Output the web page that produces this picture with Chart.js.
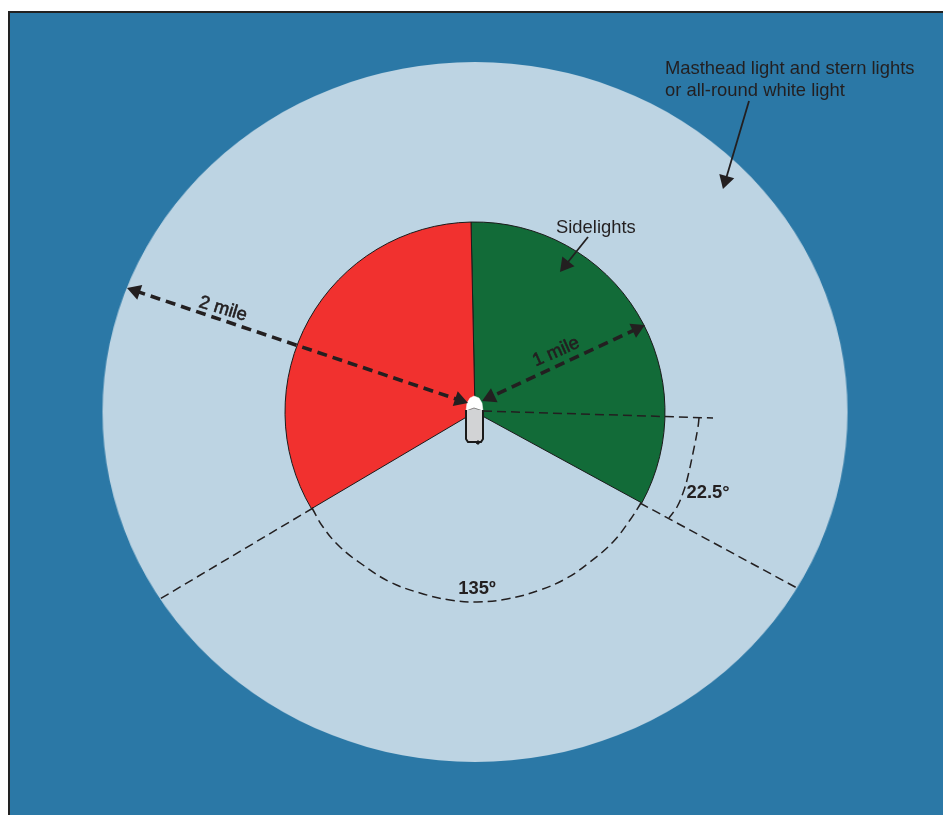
<!DOCTYPE html>
<html>
<head>
<meta charset="utf-8">
<title>Navigation light sectors</title>
<script src="https://cdn.jsdelivr.net/npm/chart.js@4"></script>
<style>
  html, body { margin: 0; padding: 0; background: #fff; }
  #page { position: relative; width: 943px; height: 815px; overflow: hidden; }
  #sea { position: absolute; left: 8px; top: 11px; width: 935px; height: 804px;
         background: #2b78a6; border-left: 2.5px solid #222; border-top: 2.5px solid #222; box-sizing: border-box; }
  .layer { position: absolute; }
  #allRound { left: 123px; top: 60px; width: 704px; height: 704px; transform: scaleX(1.0643); }
  #sectors { left: 275px; top: 212px; width: 400px; height: 400px; }
  #overlay { left: 0; top: 0; width: 943px; height: 815px; }
</style>
</head>
<body>
<div id="page">
  <div id="sea"></div>
  <div class="layer" id="allRound"><canvas id="allRoundChart" width="704" height="704"></canvas></div>
  <div class="layer" id="sectors"><canvas id="sectorChart" width="400" height="400"></canvas></div>
  <div class="layer" id="overlay"><canvas id="overlayChart" width="943" height="815"></canvas></div>
</div>
<script>
// Data

const sectorLabels = ["Starboard", "Stern gap", "Port"];
const sectorDegrees = [119.8, 120.8, 119.4];
const sectorStart = -1.2;
const allRoundLabels = ["All-round white"];
const allRoundDegrees = [360];

// overlay points, in picture coordinates
const rayAhead = [[483, 411], [713, 418]];
const rayStarboard = [[640, 503], [797, 588]];
const rayPort = [[313, 508], [160, 599]];
const arc135 = [[312, 508], [323, 527], [340, 547], [363, 565], [390, 582], [420, 593], [450, 600],
                [477, 602], [507, 599], [540, 590], [567, 578], [590, 562], [613, 542], [630, 520], [641, 503]];
const arc225 = [[699, 418], [698, 427], [693, 453], [687, 480], [683, 493], [677, 507], [669, 518]];

const arrow2Mile = [[135.5, 290.9], [459.5, 400.1]];
const arrow1Mile = [[636.8, 328.8], [490.2, 397.2]];
const arrowMasthead = [[749, 101], [725.5, 180.4]];
const arrowSidelights = [[588, 237], [565.6, 265]];

const boatHull = [[466, 410], [466, 439], [468, 442], [481, 442], [483, 439], [483, 410]];
const boatKeel = [[477, 441], [477, 444], [479, 444], [479, 441], [477, 441]];
const boatCabin = [[466, 411], [474, 408], [483, 411], [483, 420], [466, 420], [466, 411]];
const boatBow = [[466, 411], [467, 403], [470, 398], [474, 396], [479, 398], [482, 403], [483, 411], [474, 408], [466, 411]];

const labelTexts = ["Masthead light and stern lights", "or all-round white light", "Sidelights", "2 mile", "1 mile", "135º", "22.5°"];
const labelX = [665, 665, 556, 223, 556, 477, 708];
const labelY = [69, 91, 228, 309, 352, 589, 493];
const labelAngle = [0, 0, 0, 17, -24, 0, 0];
const labelWeight = ["normal", "normal", "normal", "heavy", "heavy", "bold", "bold"];

const INK = "#231f20";

function pts(list) {
  return list.map(p => ({ x: p[0], y: p[1] }));
}

function dashed(list, smooth) {
  return { data: pts(list), showLine: true, borderColor: INK, borderWidth: 1.5, borderDash: [9, 5],
           tension: smooth ? 0.4 : 0, pointRadius: 0 };
}

// line with a triangle head; angles are degrees clockwise from up
function arrow(list, width, dash, size, angles) {
  return { data: pts(list), showLine: true, borderColor: INK, borderWidth: width, borderDash: dash,
           pointStyle: "triangle", pointBackgroundColor: INK, pointBorderWidth: 0,
           pointRadius: size, pointRotation: angles };
}

function shape(list, color, edge, width) {
  return { data: pts(list), showLine: true, fill: "shape", backgroundColor: color, borderColor: edge,
           borderWidth: width, pointRadius: 0 };
}

const labelPlugin = {
  id: "labelPlugin",
  afterDatasetsDraw(chart) {
    const { ctx, scales } = chart;
    labelTexts.forEach((t, i) => {
      ctx.save();
      ctx.translate(scales.x.getPixelForValue(labelX[i]), scales.y.getPixelForValue(labelY[i]));
      ctx.rotate(labelAngle[i] * Math.PI / 180);
      ctx.font = (labelWeight[i] === "bold" ? "bold " : "") + "18.4px 'Liberation Sans'";
      ctx.fillStyle = INK;
      ctx.strokeStyle = INK;
      ctx.lineWidth = 0.6;
      ctx.textBaseline = "middle";
      ctx.textAlign = i < 3 ? "left" : "center";
      ctx.fillText(t, 0, 0);
      if (labelWeight[i] === "heavy") ctx.strokeText(t, 0, 0);
      ctx.restore();
    });
  },
};

const quiet = { legend: { display: false }, tooltip: { enabled: false } };

new Chart(document.getElementById("allRoundChart"), {
  type: "pie",
  data: {
    labels: allRoundLabels,
    datasets: [{ data: allRoundDegrees, backgroundColor: ["#bdd4e3"], borderWidth: 0, radius: 350 }],
  },
  options: { responsive: false, animation: false, plugins: quiet },
});

new Chart(document.getElementById("sectorChart"), {
  type: "pie",
  data: {
    labels: sectorLabels,
    datasets: [{
      data: sectorDegrees,
      backgroundColor: ["#126b38", "rgba(0,0,0,0)", "#f1312f"],
      borderColor: ["#1a1a1a", "rgba(0,0,0,0)", "#1a1a1a"],
      borderWidth: 1,
      borderJoinStyle: "miter",
      radius: 190,
    }],
  },
  options: { responsive: false, animation: false, rotation: sectorStart, plugins: quiet },
});

new Chart(document.getElementById("overlayChart"), {
  type: "scatter",
  data: {
    datasets: [
      dashed(rayAhead),
      dashed(rayStarboard),
      dashed(rayPort),
      dashed(arc135, true),
      dashed(arc225, true),
      arrow(arrow2Mile, 3.6, [10, 6], [9, 9], [288.6, 108.6]),
      arrow(arrow1Mile, 3.6, [10, 6], [9, 9], [65, 245]),
      arrow(arrowMasthead, 1.8, [], [0, 9], [0, 196.4]),
      arrow(arrowSidelights, 1.8, [], [0, 9], [0, 218.7]),
      shape(boatKeel, "#1a1a1a", "#1a1a1a", 1),
      shape(boatHull, "#d2d3d5", "#1a1a1a", 2),
      shape(boatCabin, "#d2d3d5", "#8a8a8a", 1),
      shape(boatBow, "#ffffff", "#ffffff", 0.5),
    ],
  },
  options: {
    responsive: false,
    animation: false,
    layout: { padding: 0, autoPadding: false },
    plugins: quiet,
    scales: {
      x: { type: "linear", min: 0, max: 943, display: false },
      y: { type: "linear", min: 0, max: 815, reverse: true, display: false },
    },
  },
  plugins: [labelPlugin],
});
</script>
</body>
</html>
